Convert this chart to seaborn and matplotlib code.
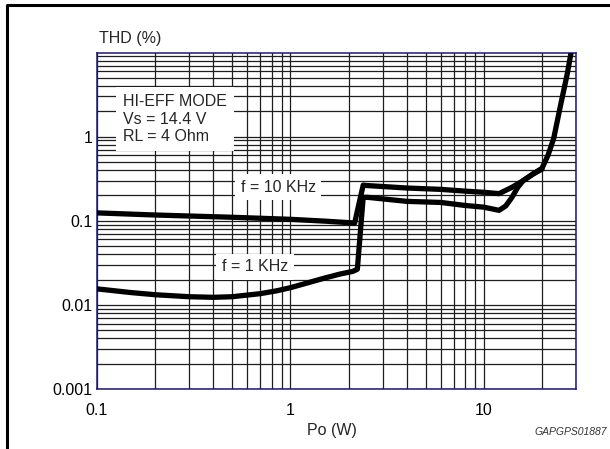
import pandas as pd
import matplotlib.pyplot as plt
import seaborn as sns
from matplotlib.ticker import LogLocator, NullFormatter
from matplotlib.lines import Line2D

# THD vs output power
po_10k = [0.1, 0.2, 0.5, 1.0, 1.5, 2.15, 2.38, 2.5, 4.0, 6.0, 8.0, 10.0, 12.0,
          14.0, 16.0, 18.0, 20.0, 21.5, 23.0, 25.0, 27.0, 28.3]
thd_10k = [0.124, 0.117, 0.110, 0.104, 0.099, 0.094, 0.265, 0.262, 0.245, 0.236,
           0.225, 0.218, 0.210, 0.250, 0.300, 0.360, 0.420, 0.600, 0.950, 2.40,
           5.50, 10.0]

po_1k = [0.1, 0.15, 0.2, 0.3, 0.4, 0.5, 0.7, 0.85, 1.0, 1.2, 1.5, 1.8, 2.1,
         2.22, 2.38, 2.5, 4.0, 6.0, 8.0, 10.0, 12.0, 13.0, 14.0, 15.0, 16.0,
         18.0, 20.0]
thd_1k = [0.0155, 0.0140, 0.0132, 0.0125, 0.0123, 0.0125, 0.0136, 0.0147,
          0.0160, 0.0180, 0.0208, 0.0232, 0.0250, 0.0265, 0.190, 0.190, 0.170,
          0.165, 0.152, 0.145, 0.133, 0.150, 0.190, 0.250, 0.300, 0.360, 0.410]

x_ticks = [0.1, 1, 10]
x_labels = ['0.1', '1', '10']
y_ticks = [0.001, 0.01, 0.1, 1]
y_labels = ['0.001', '0.01', '0.1', '1']

df_10k = pd.DataFrame({'Po': po_10k, 'THD': thd_10k})
df_1k = pd.DataFrame({'Po': po_1k, 'THD': thd_1k})

sns.set_style('white')
plt.rcParams['font.family'] = ['Liberation Sans', 'DejaVu Sans']

fig = plt.figure(figsize=(6.1, 4.49), dpi=100)
ax = fig.add_axes([97 / 610, 1 - 389 / 449, 479 / 610, 336.5 / 449])

sns.lineplot(x='Po', y='THD', data=df_10k, ax=ax, color='black', lw=3.8,
             estimator=None, sort=False, solid_capstyle='round',
             solid_joinstyle='round', zorder=5)
sns.lineplot(x='Po', y='THD', data=df_1k, ax=ax, color='black', lw=3.8,
             estimator=None, sort=False, solid_capstyle='round',
             solid_joinstyle='round', zorder=5)

ax.set_xscale('log')
ax.set_yscale('log')
ax.set_xlim(0.1, 30)
ax.set_ylim(0.001, 10)

ax.set_xticks(x_ticks)
ax.set_xticklabels(x_labels)
ax.set_yticks(y_ticks)
ax.set_yticklabels(y_labels)
ax.xaxis.set_minor_locator(LogLocator(base=10, subs=range(2, 10)))
ax.yaxis.set_minor_locator(LogLocator(base=10, subs=range(2, 10)))
ax.xaxis.set_minor_formatter(NullFormatter())
ax.yaxis.set_minor_formatter(NullFormatter())
ax.tick_params(which='both', length=0, labelsize=11.5, colors='black')
ax.tick_params(axis='x', pad=10)
ax.tick_params(axis='y', pad=3)

ax.grid(True, which='both', color='#1e1e1e', lw=0.9)
ax.set_axisbelow(True)
for s in ax.spines.values():
    s.set_color('#1a1a70')
    s.set_linewidth(1.1)

ax.set_xlabel('')
ax.set_ylabel('')

box = dict(facecolor='white', edgecolor='none', pad=4)
ax.text(0.054, 0.802, 'HI-EFF MODE\nVs = 14.4 V\nRL = 4 Ohm', transform=ax.transAxes,
        ha='left', va='center', fontsize=11.5, linespacing=1.2, zorder=4,
        bbox=dict(facecolor='white', edgecolor='none', pad=5))
ax.text(0.378, 0.600, 'f = 10 KHz', transform=ax.transAxes, ha='center',
        va='center', fontsize=11.5, zorder=4, bbox=box)
ax.text(0.330, 0.3626, 'f = 1 KHz', transform=ax.transAxes, ha='center',
        va='center', fontsize=11.5, zorder=4, bbox=box)

fig.text(99 / 610, 1 - 38 / 449, 'THD (%)', ha='left', va='center', fontsize=11.5)
fig.text(332 / 610, 1 - 430 / 449, 'Po (W)', ha='center', va='center', fontsize=11.5)
fig.text(534 / 610, 1 - 432 / 449, 'GAPGPS01887', ha='left', va='center',
         fontsize=7.5, style='italic', color='#333333')

# outer frame (only left and top edges are visible in the original)
fig.add_artist(Line2D([7 / 610, 7 / 610, 1.0], [0.0, 1 - 5 / 449, 1 - 5 / 449],
                      transform=fig.transFigure, color='black', lw=2.2))

fig.savefig('out.png', dpi=100)
